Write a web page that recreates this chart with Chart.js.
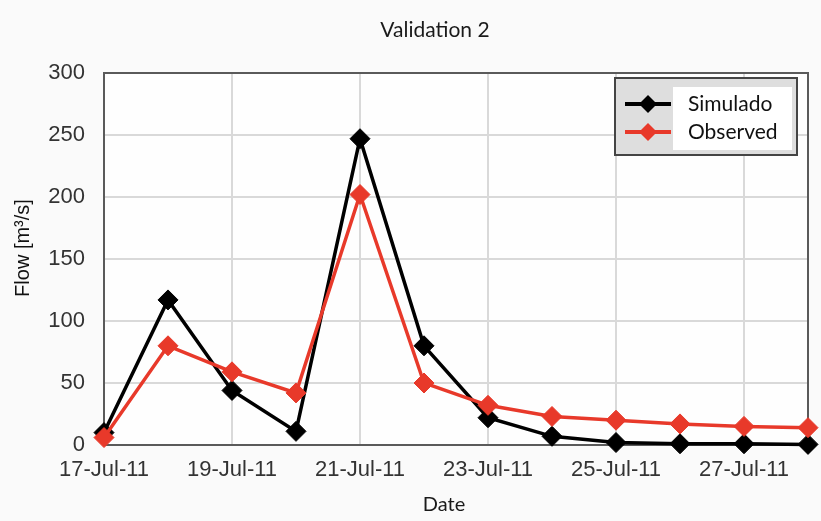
<!DOCTYPE html>
<html>
<head>
<meta charset="utf-8">
<script src="https://cdn.jsdelivr.net/npm/chart.js@4"></script>
<style>
  html, body { margin: 0; padding: 0; background: #fafafa; }
  #wrap { width: 821px; height: 521px; }
</style>
</head>
<body>
<div id="wrap"><canvas id="chart" width="821" height="521"></canvas></div>
<script>
// Daily flow, July 2011
const days = [17, 18, 19, 20, 21, 22, 23, 24, 25, 26, 27, 28];
const simulated = [10, 117, 44, 11, 247, 80, 22, 7, 2, 1, 1, 0.5];
const observed = [6, 80, 59, 42, 202, 50, 32, 23, 20, 17, 15, 14];
const tickDays = [17, 19, 21, 23, 25, 27];
const seriesNames = ['Simulado', 'Observed'];
const chartTitle = 'Validation 2';
const yTitle = 'Flow [m\u00B3/s]';
const xTitle = 'Date';

const COLORS = ['#000000', '#e8392a'];

const toPoints = (vals) => vals.map((v, i) => ({ x: days[i], y: v }));

// Canvas background and plot frame
const framePlugin = {
  id: 'frame',
  beforeDraw(chart) {
    const { ctx, chartArea: a } = chart;
    ctx.save();
    ctx.fillStyle = '#fafafa';
    ctx.fillRect(0, 0, chart.width, chart.height);
    ctx.fillStyle = '#fefefe';
    ctx.fillRect(a.left, a.top, a.right - a.left, a.bottom - a.top);
    ctx.restore();
  },
  beforeDatasetsDraw(chart) {
    const { ctx, chartArea: a } = chart;
    ctx.save();
    ctx.strokeStyle = '#5a5a5a';
    ctx.lineWidth = 2;
    ctx.strokeRect(a.left, a.top, a.right - a.left, a.bottom - a.top);
    ctx.restore();
  }
};

// Chart title and axis titles
const titlesPlugin = {
  id: 'titles',
  afterDraw(chart) {
    const { ctx } = chart;
    ctx.save();
    ctx.textAlign = 'center';
    ctx.textBaseline = 'middle';
    ctx.fillStyle = '#1a1a1a';
    ctx.font = '21px Lato';
    ctx.fillText(chartTitle, 435, 30);
    ctx.font = '20px Lato';
    ctx.fillText(xTitle, 444, 505);
    ctx.translate(23, 248);
    ctx.rotate(-Math.PI / 2);
    ctx.font = '20px "Liberation Sans"';
    ctx.fillStyle = '#111111';
    ctx.fillText(yTitle, 0, 0);
    ctx.restore();
  }
};

// Boxed legend drawn inside the plot's upper-right corner
const boxLegendPlugin = {
  id: 'boxLegend',
  afterDraw(chart) {
    const { ctx, chartArea: a } = chart;
    const x0 = a.right - 193, y0 = a.top + 5, w = 182, h = 77;
    ctx.save();
    ctx.fillStyle = '#dedede';
    ctx.fillRect(x0, y0, w, h);
    ctx.fillStyle = '#ffffff';
    ctx.fillRect(x0 + 58, y0 + 9, 119, 63);
    ctx.strokeStyle = '#444444';
    ctx.lineWidth = 2;
    ctx.strokeRect(x0, y0, w, h);
    chart.data.datasets.forEach((ds, i) => {
      const cy = y0 + 26 + i * 28;
      ctx.strokeStyle = ds.borderColor;
      ctx.lineWidth = 4;
      ctx.beginPath();
      ctx.moveTo(x0 + 10, cy);
      ctx.lineTo(x0 + 56, cy);
      ctx.stroke();
      ctx.fillStyle = ds.backgroundColor;
      ctx.beginPath();
      ctx.moveTo(x0 + 33, cy - 9);
      ctx.lineTo(x0 + 42, cy);
      ctx.lineTo(x0 + 33, cy + 9);
      ctx.lineTo(x0 + 24, cy);
      ctx.closePath();
      ctx.fill();
      ctx.fillStyle = '#111111';
      ctx.font = '21px Lato';
      ctx.textAlign = 'left';
      ctx.textBaseline = 'middle';
      ctx.fillText(ds.label, x0 + 73, cy);
    });
    ctx.restore();
  }
};

const makeDataset = (label, vals, color, order) => ({
  label,
  data: toPoints(vals),
  borderColor: color,
  backgroundColor: color,
  borderWidth: 3.5,
  pointStyle: 'rectRot',
  pointRadius: 10,
  pointHoverRadius: 10,
  pointBorderWidth: 1,
  pointBorderColor: color,
  tension: 0,
  clip: false,
  order
});

new Chart(document.getElementById('chart'), {
  type: 'line',
  data: {
    datasets: [
      makeDataset(seriesNames[0], simulated, COLORS[0], 1),
      makeDataset(seriesNames[1], observed, COLORS[1], 0)
    ]
  },
  options: {
    responsive: false,
    animation: false,
    devicePixelRatio: 1,
    layout: { padding: { top: 73, right: 13, left: 0, bottom: 0 } },
    plugins: {
      legend: { display: false },
      title: { display: false },
      tooltip: { enabled: false }
    },
    scales: {
      x: {
        type: 'linear',
        min: days[0],
        max: days[days.length - 1],
        afterBuildTicks(scale) {
          scale.ticks = tickDays.concat([days[days.length - 1]]).map(v => ({ value: v }));
        },
        afterFit(scale) { scale.height = 76; },
        grid: { color: '#d9d9d9', lineWidth: 2, drawTicks: false },
        border: { display: false },
        ticks: {
          autoSkip: false,
          maxRotation: 0,
          padding: 12,
          color: '#333333',
          font: { family: 'Liberation Sans', size: 22 },
          callback: (v) => tickDays.includes(v) ? v + '-Jul-11' : ''
        },
        title: { display: false }
      },
      y: {
        min: 0,
        max: 300,
        afterFit(scale) { scale.width = 104; },
        grid: { color: '#d9d9d9', lineWidth: 2, drawTicks: false },
        border: { display: false },
        ticks: {
          stepSize: 50,
          padding: 19,
          color: '#333333',
          font: { family: 'Liberation Sans', size: 22 }
        },
        title: { display: false }
      }
    }
  },
  plugins: [framePlugin, titlesPlugin, boxLegendPlugin]
});
</script>
</body>
</html>
